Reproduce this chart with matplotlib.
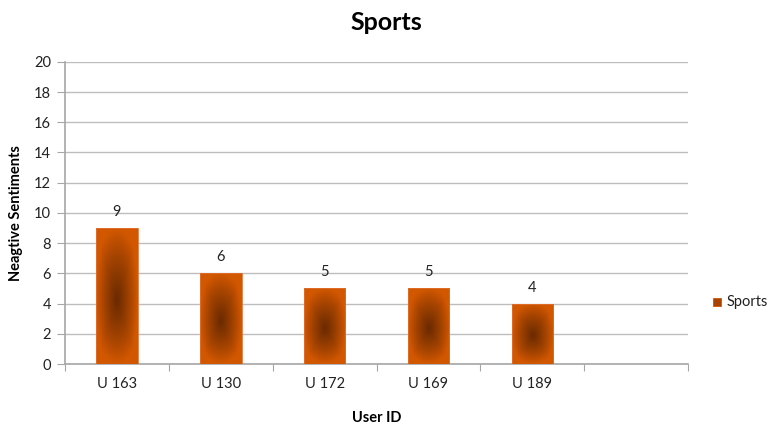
import numpy as np
import matplotlib.pyplot as plt
from matplotlib.patches import Rectangle
from matplotlib.colors import LinearSegmentedColormap

plt.rcParams['font.family'] = ['Lato', 'DejaVu Sans']

users = ['U 163', 'U 130', 'U 172', 'U 169', 'U 189', '']
neg_counts = [9, 6, 5, 5, 4]
y_ticks = list(range(0, 21, 2))

fig = plt.figure(figsize=(7.73, 4.25), dpi=100)
ax = fig.add_axes([0.0841, 0.1435, 0.806, 0.711])

n_slots = len(users)

# gradient from the centre: dark brown -> orange at the edges
cmap = LinearSegmentedColormap.from_list(
    'rad', [(0, '#6a2a00'), (0.35, '#8a3800'), (0.65, '#a84500'), (0.85, '#c04f00'), (1, '#d25800')])
bar_w = 0.4
gx, gy = np.meshgrid(np.linspace(-1, 1, 120), np.linspace(0, 1, 240))
for i, v in enumerate(neg_counts):
    cx = i + 0.5
    x0, x1 = cx - bar_w / 2, cx + bar_w / 2
    dy = np.where(gy < 0.47, (gy - 0.47) / 0.47, (gy - 0.47) / 0.53)
    r = 0.7 * np.sqrt(gx ** 2 + dy ** 2) + 0.3 * np.maximum(np.abs(gx), np.abs(dy))
    im = ax.imshow(np.clip(r, 0, 1), extent=[x0, x1, 0, v], origin='lower',
                   cmap=cmap, vmin=0, vmax=1, aspect='auto', zorder=3,
                   interpolation='bilinear')
    rect = Rectangle((x0, 0), bar_w, v, transform=ax.transData, facecolor='none',
                     edgecolor='#e07030', lw=0.6, zorder=4)
    ax.add_patch(rect)
    im.set_clip_path(rect)
    ax.text(cx, v + 0.6, str(v), ha='center', va='bottom', fontsize=10.5, color='#222222')

ax.set_xlim(0, n_slots)
ax.set_ylim(0, 20)

ax.set_yticks(y_ticks)
ax.grid(axis='y', color='#bdbdbd', lw=1)
ax.set_axisbelow(True)
for s in ['top', 'right']:
    ax.spines[s].set_visible(False)
for s in ['left', 'bottom']:
    ax.spines[s].set_color('#a6a6a6')
    ax.spines[s].set_linewidth(1.2)
ax.tick_params(axis='y', length=6, color='#a6a6a6', labelsize=10.5, labelcolor='#222222', pad=4)

ax.set_xticks(np.arange(n_slots + 1), minor=False)
ax.set_xticklabels([])
ax.set_xticks(np.arange(n_slots) + 0.5, minor=True)
ax.set_xticklabels(users, minor=True)
ax.tick_params(axis='x', which='major', length=5, color='#a6a6a6', direction='out')
ax.tick_params(axis='x', which='minor', length=0, labelsize=10.5, labelcolor='#222222', pad=9)

ax.set_ylabel('Neagtive Sentiments', fontsize=10.5, fontweight='bold', labelpad=8)
ax.set_xlabel('User ID', fontsize=10.5, fontweight='bold', labelpad=15)
fig.suptitle('Sports', fontsize=18, fontweight='bold', y=0.975, x=0.5)

# legend
fig.patches.append(Rectangle((713 / 773, 1 - 306 / 425), 8 / 773, 8 / 425,
                             transform=fig.transFigure, facecolor='#a84400',
                             edgecolor='#d45800', lw=0.6))
fig.text(727 / 773, 1 - 302 / 425, 'Sports', fontsize=10.5, va='center', color='#222222')

fig.savefig('out.png', dpi=100)
